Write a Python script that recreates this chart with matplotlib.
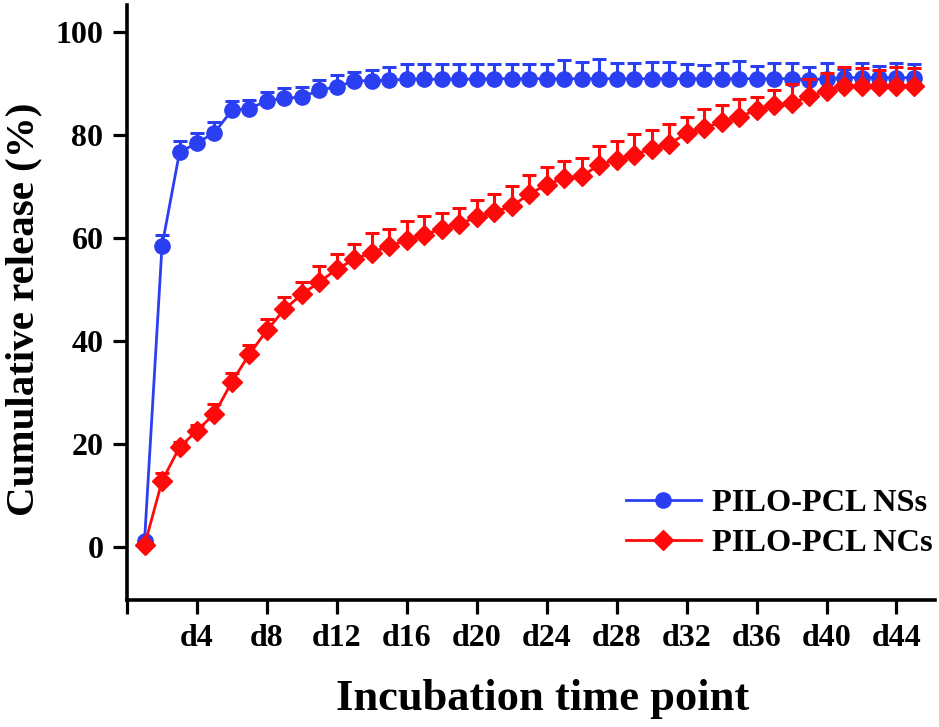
import matplotlib.pyplot as plt
from matplotlib.lines import Line2D
import numpy as np

days = np.arange(1, 46)

# PILO-PCL NSs (blue)
ns_mean = [1.2, 58.5, 76.7, 78.5, 80.5, 84.9, 85.2, 86.7, 87.2, 87.4,
           88.8, 89.4, 90.6, 90.6, 90.7, 90.9, 90.9, 90.9, 90.9, 90.9,
           91.0, 91.0, 91.0, 91.0, 91.0, 91.0, 91.0, 91.0, 91.0, 91.0,
           91.0, 91.0, 91.0, 91.0, 91.0, 91.0, 91.0, 91.0, 90.8, 91.0,
           91.2, 91.2, 91.2, 91.2, 91.2]
ns_err = [0.5, 2.2, 2.1, 2.0, 2.0, 1.7, 1.7, 1.8, 1.9, 2.0,
          1.9, 2.4, 1.7, 2.1, 2.6, 2.9, 2.9, 2.9, 2.9, 2.9,
          2.9, 2.9, 2.9, 2.9, 3.6, 3.3, 3.8, 3.0, 3.0, 3.2,
          3.3, 2.9, 2.7, 3.0, 3.4, 2.4, 3.0, 3.1, 2.5, 3.0,
          1.6, 2.8, 2.2, 2.9, 2.6]

# PILO-PCL NCs (red)
nc_mean = [0.3, 12.8, 19.4, 22.6, 25.9, 32.1, 37.5, 42.1, 46.2, 49.1,
           51.5, 54.0, 55.9, 57.2, 58.5, 59.6, 60.7, 61.8, 62.8, 64.1,
           65.1, 66.2, 68.6, 70.4, 71.7, 72.0, 74.3, 75.2, 76.2, 77.4,
           78.3, 80.4, 81.5, 82.5, 83.6, 84.9, 85.8, 86.2, 87.6, 88.6,
           89.6, 89.6, 89.6, 89.6, 89.6]
nc_err = [0.3, 1.6, 1.0, 1.2, 1.9, 1.8, 1.8, 2.2, 2.3, 2.3,
          3.1, 2.9, 3.0, 3.8, 3.3, 3.7, 3.6, 3.1, 3.0, 3.3,
          3.4, 3.9, 3.6, 3.4, 3.4, 3.5, 3.7, 3.6, 4.0, 3.6,
          3.8, 3.2, 3.6, 3.4, 3.4, 2.6, 3.0, 3.7, 3.4, 3.6,
          3.7, 3.4, 3.1, 3.7, 3.5]

xticks = [0, 4, 8, 12, 16, 20, 24, 28, 32, 36, 40, 44]
xticklabels = [""] + [f"d{d}" for d in xticks[1:]]
yticks = [0, 20, 40, 60, 80, 100]

blue = "#2b3ff2"
red = "#ff0a0a"

plt.rcParams["font.family"] = "Liberation Serif"
plt.rcParams["font.weight"] = "bold"

fig = plt.figure(figsize=(9.39, 7.27), dpi=100)
ax = fig.add_axes([0.1353, 0.1747, 0.8604, 0.8183])

zeros = np.zeros(len(days))
ax.errorbar(days, ns_mean, yerr=[zeros, ns_err], color=blue, marker="o",
            markersize=11, linewidth=2, elinewidth=2.2, capsize=4.7,
            capthick=2.2, zorder=3)
ax.errorbar(days, nc_mean, yerr=[zeros, nc_err], color=red, marker="D",
            markersize=10, linewidth=2, elinewidth=2.2, capsize=4.7,
            capthick=2.2, zorder=4)

ax.set_xlim(0, 46.2)
ax.set_ylim(-10.3, 105.3)
ax.set_xticks(xticks)
ax.set_xticklabels(xticklabels)
ax.set_yticks(yticks)

for s in ["top", "right"]:
    ax.spines[s].set_visible(False)
for s in ["left", "bottom"]:
    ax.spines[s].set_linewidth(2.6)

ax.tick_params(axis="both", direction="out", length=10, width=2.3,
               labelsize=23, pad=7)
for lbl in ax.get_xticklabels() + ax.get_yticklabels():
    lbl.set_fontweight("bold")

ax.set_xlabel("Incubation time point", fontsize=32, fontweight="bold")
ax.set_ylabel("Cumulative release (%)", fontsize=29.5, fontweight="bold")
ax.xaxis.set_label_coords(0.514, -0.132)
ax.yaxis.set_label_coords(-0.105, 0.489)

handles = [
    Line2D([], [], color=blue, marker="o", markersize=11, linewidth=2),
    Line2D([], [], color=red, marker="D", markersize=10, linewidth=2),
]
leg = ax.legend(handles, ["PILO-PCL NSs", "PILO-PCL NCs"], loc="lower right",
                bbox_to_anchor=(1.021, 0.0375), frameon=False, fontsize=23.3,
                handlelength=2.3, handletextpad=0.35, labelspacing=0.32,
                borderaxespad=0.2)
for t in leg.get_texts():
    t.set_fontweight("bold")

fig.savefig("out.png", dpi=100)
plt.close(fig)
